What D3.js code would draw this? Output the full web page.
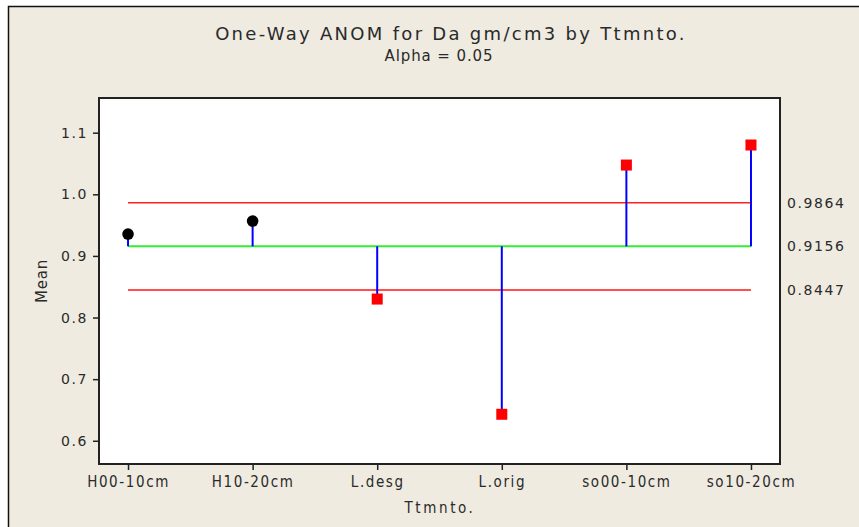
<!DOCTYPE html>
<html>
<head>
<meta charset="utf-8">
<script src="https://cdn.jsdelivr.net/npm/d3@7"></script>
<style>
  body { margin: 0; background: #fff; }
  svg text { fill: #2a2a2a; font-family: "DejaVu Sans", sans-serif; }
</style>
</head>
<body>
<svg id="chart" width="859" height="527"></svg>
<script>
// Data
const categories = ["H00-10cm", "H10-20cm", "L.desg", "L.orig", "so00-10cm", "so10-20cm"];
const means = [0.9355, 0.9565, 0.830, 0.643, 1.0475, 1.080];
const centerLine = 0.9156;
const upperLimit = 0.9864;
const lowerLimit = 0.8447;
const yTicks = [0.6, 0.7, 0.8, 0.9, 1.0, 1.1];
const limitLabels = ["0.9864", "0.9156", "0.8447"];

// Layout
const plotLeft = 99, plotRight = 780, plotTop = 98, plotBottom = 464;

const svg = d3.select("#chart");

// panel background + frame
svg.append("rect")
  .attr("x", 8).attr("y", 6).attr("width", 851).attr("height", 521)
  .attr("fill", "#efebe0");
svg.append("path")
  .attr("d", "M8.5,527 V6.5 H859")
  .attr("fill", "none").attr("stroke", "#111").attr("stroke-width", 1.5);

const x = d3.scalePoint()
  .domain(categories)
  .range([plotLeft, plotRight])
  .padding(0.233);

const y = d3.scaleLinear()
  .domain([0.5623, 1.1563])
  .range([plotBottom, plotTop]);

// plot area
svg.append("rect")
  .attr("x", plotLeft).attr("y", plotTop)
  .attr("width", plotRight - plotLeft).attr("height", plotBottom - plotTop)
  .attr("fill", "#fff").attr("stroke", "#222").attr("stroke-width", 2);

// axes
const yAxis = svg.append("g")
  .attr("transform", `translate(${plotLeft},0)`)
  .call(d3.axisLeft(y).tickValues(yTicks).tickFormat(d3.format(".1f")).tickSize(6).tickPadding(5));
const xAxis = svg.append("g")
  .attr("transform", `translate(0,${plotBottom})`)
  .call(d3.axisBottom(x).tickSize(6).tickPadding(6));

[yAxis, xAxis].forEach(g => {
  g.select(".domain").remove();
  g.selectAll("line").attr("stroke", "#222").attr("stroke-width", 1.5);
  g.selectAll("text").attr("fill", "#2a2a2a");
});
yAxis.selectAll("text")
  .style("font-size", "14px").style("letter-spacing", "1.6px")
  .style("font-family", "'DejaVu Sans', sans-serif");
xAxis.selectAll("text")
  .style("font-size", "15px").style("letter-spacing", "1.6px")
  .style("font-family", "'DejaVu Sans Condensed', 'DejaVu Sans', sans-serif")
  .style("font-stretch", "condensed");

// limit lines
const x0 = x(categories[0]), x1 = x(categories[categories.length - 1]);
const limits = [
  { v: upperLimit, color: "#ff2020", w: 1.5 },
  { v: centerLine, color: "#33ee33", w: 2 },
  { v: lowerLimit, color: "#ff5050", w: 2 }
];
svg.selectAll(".limit")
  .data(limits)
  .join("line")
  .attr("class", "limit")
  .attr("x1", x0).attr("x2", x1)
  .attr("y1", d => y(d.v)).attr("y2", d => y(d.v))
  .attr("stroke", d => d.color).attr("stroke-width", d => d.w);

svg.selectAll(".limitLabel")
  .data(limits)
  .join("text")
  .attr("class", "limitLabel")
  .attr("x", 787)
  .attr("y", d => y(d.v))
  .attr("dy", "0.36em")
  .style("font-size", "14px").style("letter-spacing", "1.6px")
  .text((d, i) => limitLabels[i]);

// stems
const pts = categories.map((c, i) => ({ c: c, v: means[i], out: means[i] > upperLimit || means[i] < lowerLimit }));
svg.selectAll(".stem")
  .data(pts)
  .join("line")
  .attr("class", "stem")
  .attr("x1", d => x(d.c)).attr("x2", d => x(d.c))
  .attr("y1", y(centerLine)).attr("y2", d => y(d.v))
  .attr("stroke", "#0000ff").attr("stroke-width", 2);

// markers
svg.selectAll(".dot")
  .data(pts.filter(d => !d.out))
  .join("circle")
  .attr("class", "dot")
  .attr("cx", d => x(d.c)).attr("cy", d => y(d.v))
  .attr("r", 5.8).attr("fill", "#000");

const sq = 11;
svg.selectAll(".sq")
  .data(pts.filter(d => d.out))
  .join("rect")
  .attr("class", "sq")
  .attr("x", d => x(d.c) - sq / 2).attr("y", d => y(d.v) - sq / 2)
  .attr("width", sq).attr("height", sq)
  .attr("fill", "#ff0000");

// titles
svg.append("text")
  .attr("x", 451).attr("y", 40)
  .attr("text-anchor", "middle")
  .style("font-size", "18px").style("letter-spacing", "2.3px")
  .text("One-Way ANOM for Da gm/cm3 by Ttmnto.");
svg.append("text")
  .attr("x", 439).attr("y", 61)
  .attr("text-anchor", "middle")
  .style("font-size", "15px").style("letter-spacing", "0.9px")
  .text("Alpha = 0.05");
svg.append("text")
  .attr("transform", `translate(47,${(plotTop + plotBottom) / 2}) rotate(-90)`)
  .attr("text-anchor", "middle")
  .style("font-size", "15px").style("letter-spacing", "0.8px")
  .text("Mean");
svg.append("text")
  .attr("x", 440).attr("y", 513)
  .attr("text-anchor", "middle")
  .style("font-size", "15px").style("letter-spacing", "2.6px")
  .style("font-family", "'DejaVu Sans Condensed', 'DejaVu Sans', sans-serif")
  .text("Ttmnto.");
</script>
</body>
</html>
